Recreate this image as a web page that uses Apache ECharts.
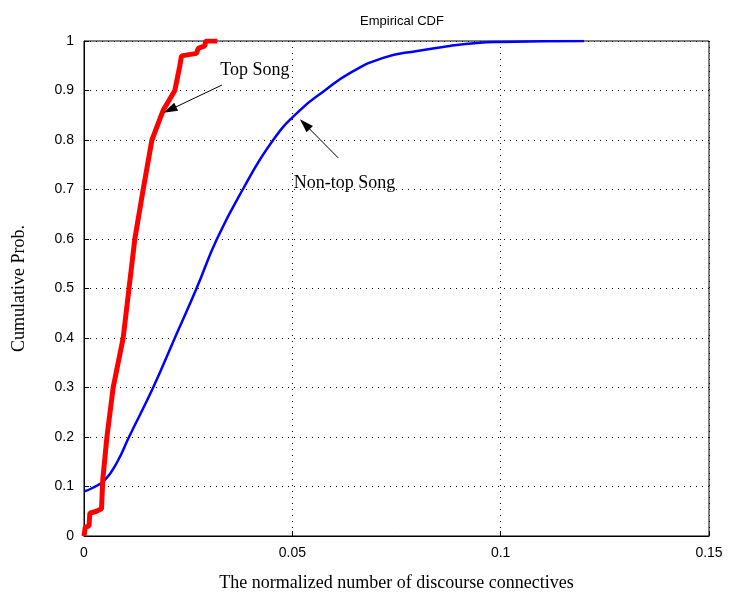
<!DOCTYPE html>
<html><head><meta charset="utf-8">
<script src="https://cdn.jsdelivr.net/npm/echarts@6/dist/echarts.min.js"></script>
<style>html,body{margin:0;padding:0;background:#fff}#c{width:733px;height:597px}</style>
</head><body><div id="c"></div>
<script>
const xTicks = [0, 0.05, 0.1, 0.15];
const yTicks = [0, 0.1, 0.2, 0.3, 0.4, 0.5, 0.6, 0.7, 0.8, 0.9, 1];
const topX = [0, 0.0003, 0.0012, 0.0014, 0.003, 0.0042, 0.0045, 0.0055, 0.007, 0.0094, 0.0108, 0.0122, 0.0142, 0.0163, 0.019, 0.0218, 0.023, 0.0234, 0.027, 0.0274, 0.029, 0.0292, 0.032];
const topY = [0, 0.018, 0.02, 0.046, 0.05, 0.055, 0.113, 0.2, 0.3, 0.4, 0.5, 0.6, 0.7, 0.8, 0.86, 0.9, 0.95, 0.97, 0.975, 0.985, 0.99, 1, 1];
const nonX = [0, 0.002, 0.005, 0.008, 0.0108, 0.0166, 0.0218, 0.027, 0.0319, 0.0381, 0.0454, 0.0518, 0.0578, 0.0638, 0.0718, 0.08, 0.0878, 0.0943, 0.1, 0.12];
const nonY = [0.09, 0.097, 0.113, 0.15, 0.2, 0.3, 0.4, 0.5, 0.6, 0.7, 0.8, 0.86, 0.9, 0.935, 0.966, 0.98, 0.99, 0.996, 0.998, 1.0];
const labels = [
  {name: 'Top Song', text: [0.041, 0.941], arrowFrom: [0.0331, 0.911], arrowTo: [0.0206, 0.861]},
  {name: 'Non-top Song', text: [0.0502, 0.713], arrowFrom: [0.061, 0.764], arrowTo: [0.053, 0.832]}
];

const chart = echarts.init(document.getElementById('c'));
const zip = (a, b) => a.map((v, i) => [v, b[i]]);
const fmt = v => String(Math.round(v * 1000) / 1000);
const mp = (l, align) => ({
  symbol: 'circle', symbolSize: 1, silent: true,
  itemStyle: {color: 'rgba(0,0,0,0)'},
  label: {show: true, position: align === 'left' ? 'right' : 'inside', distance: 0,
    formatter: l.name, fontFamily: 'Liberation Serif', fontSize: 18, color: '#000'},
  data: [{coord: l.text}]
});
const ml = l => ({
  silent: true, symbol: ['none', 'triangle'], symbolSize: [9, 14],
  lineStyle: {color: '#000', width: 1, type: 'solid'}, label: {show: false},
  data: [[{coord: l.arrowFrom}, {coord: l.arrowTo}]]
});
chart.setOption({
  animation: false,
  title: {
    text: 'Empirical CDF', left: 397, top: 10, textAlign: 'center',
    textStyle: {fontFamily: 'Liberation Sans', fontSize: 13, fontWeight: 'normal', color: '#000'}
  },
  grid: {left: 84, right: 24, top: 41, bottom: 61, show: true, borderColor: '#000', borderWidth: 1},
  xAxis: {
    type: 'value', min: 0, max: 0.15, interval: 0.05,
    name: 'The normalized number of discourse connectives', nameLocation: 'middle', nameGap: 38,
    nameTextStyle: {fontFamily: 'Liberation Serif', fontSize: 18, color: '#000'},
    axisLine: {show: true, lineStyle: {color: '#000'}},
    axisTick: {inside: true, length: 5, lineStyle: {color: '#000'}},
    axisLabel: {fontFamily: 'Liberation Sans', fontSize: 14, color: '#000', margin: 10, formatter: fmt},
    splitLine: {show: true, lineStyle: {color: '#000', type: [1, 5], width: 1}}
  },
  yAxis: {
    type: 'value', min: 0, max: 1, interval: 0.1,
    name: 'Cumulative Prob.', nameLocation: 'middle', nameGap: 56,
    nameTextStyle: {fontFamily: 'Liberation Serif', fontSize: 18, color: '#000'},
    axisLine: {show: true, lineStyle: {color: '#000'}},
    axisTick: {inside: true, length: 5, lineStyle: {color: '#000'}},
    axisLabel: {fontFamily: 'Liberation Sans', fontSize: 14, color: '#000', margin: 10, formatter: fmt},
    splitLine: {show: true, lineStyle: {color: '#000', type: [1, 5], width: 1}}
  },
  series: [
    {
      name: 'Non-top Song', type: 'line', data: zip(nonX, nonY), smooth: 0.5, showSymbol: false,
      lineStyle: {color: '#0000ff', width: 2.5}, z: 2,
      markLine: ml(labels[1]), markPoint: mp(labels[1], 'left')
    },
    {
      name: 'Top Song', type: 'line', data: zip(topX, topY), showSymbol: false,
      lineStyle: {color: '#ff0000', width: 5}, z: 3,
      markLine: ml(labels[0]), markPoint: mp(labels[0], 'center')
    }
  ]
});
</script></body></html>
